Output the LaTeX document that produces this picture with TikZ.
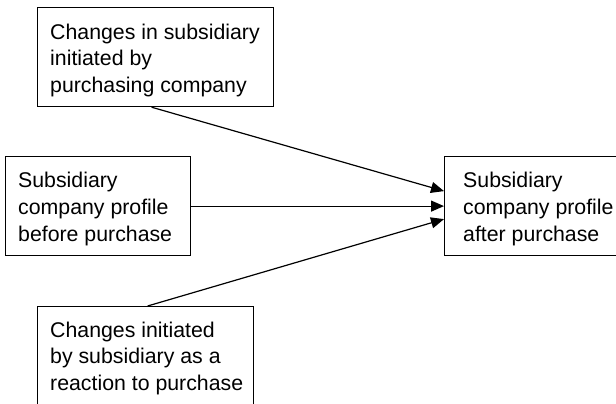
\documentclass[tikz,border=0pt]{standalone}
\usepackage{fontspec}
\setmainfont{Liberation Sans}
\usetikzlibrary{arrows.meta}
\tikzset{
  frame/.style={draw=black, line width=1.2pt, inner sep=0pt, anchor=north west},
  label/.style={inner sep=0pt, anchor=north west, align=left,
    font=\fontsize{21.3}{26.7}\selectfont},
  arr/.style={line width=1.2pt, -{Triangle[length=13pt,width=11pt]}}
}
\begin{document}
\begin{tikzpicture}[x=1pt,y=-1pt]
  \useasboundingbox (0,0) rectangle (616,404);
  \clip (0,0) rectangle (616,404);
  % boxes
  \node[frame, minimum width=236pt, minimum height=99pt] (top) at (37,7) {};
  \node[frame, minimum width=185pt, minimum height=99pt] (mid) at (5,156) {};
  \node[frame, minimum width=216pt, minimum height=115pt] (bot) at (37,306) {};
  \node[frame, minimum width=200pt, minimum height=99pt] (res) at (444,156) {};
  % texts
  \node[label] (ttop) at (50,23.5) {Changes in subsidiary\\initiated by\\purchasing company};
  \node[label] (tmid) at (18,172.3) {Subsidiary\\company profile\\before purchase};
  \node[label] (tbot) at (50,321.5) {Changes initiated\\by subsidiary as a\\reaction to purchase};
  \node[label] (tres) at (463,172.3) {Subsidiary\\company profile\\after purchase};
  % connectors
  \draw[arr] ([xshift=-4pt]top.south) -- ([yshift=15pt]res.west);
  \draw[arr] (mid.east) -- (res.west);
  \draw[arr] ([xshift=2pt]bot.north) -- ([yshift=-13pt]res.west);
\end{tikzpicture}
\end{document}
